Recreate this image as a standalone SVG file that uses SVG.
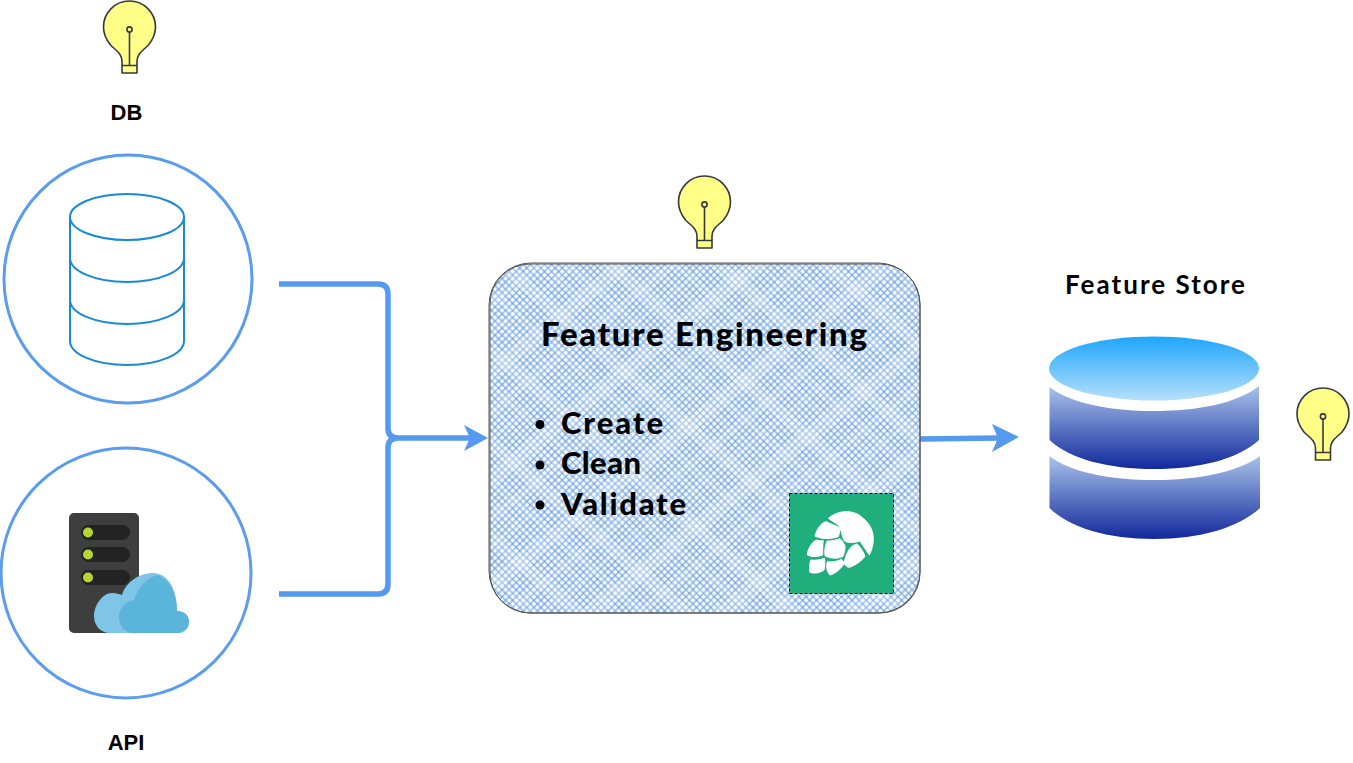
<svg xmlns="http://www.w3.org/2000/svg" width="1353" height="763" viewBox="0 0 1353 763">
<style>
.ring{fill:none;stroke:#5a9cf0;stroke-width:3}
.conn{fill:none;stroke:#5599f0;stroke-width:5.500}
.head{fill:#5599f0}
.bulb{fill:#ffff88;stroke:#36393d;stroke-width:1.6;stroke-linejoin:round}
.bline{fill:none;stroke:#36393d;stroke-width:1.6}
.cyl{fill:#fff;stroke:#1a8ad8;stroke-width:2}
.sans{font-family:"Liberation Sans",Arial,sans-serif;font-weight:700;font-size:22px;fill:#000;text-anchor:middle}
.hand{font-family:"Lato","Noto Sans",sans-serif;font-weight:900;fill:#000}
.store{font-family:"Lato","Noto Sans",sans-serif;font-weight:700;font-size:26px;fill:#000}
.sk{fill:none;stroke:#555;stroke-width:1}
.hop{fill:#fff;stroke:#fff;stroke-width:3;stroke-linejoin:round}
</style>
<defs>
<pattern id="h1" width="5" height="5" patternUnits="userSpaceOnUse" patternTransform="rotate(45)"><line x1="0" y1="2" x2="5" y2="2" stroke="#5a96e4" stroke-width="1.1"/></pattern>
<pattern id="h2" width="5" height="5" patternUnits="userSpaceOnUse" patternTransform="rotate(-45)"><line x1="0" y1="2" x2="5" y2="2" stroke="#5a96e4" stroke-width="1.1"/></pattern>
<pattern id="w1" width="71" height="71" patternUnits="userSpaceOnUse" patternTransform="rotate(41)"><rect y="6" width="71" height="13" fill="#fff" opacity=".2"/><rect y="37" width="71" height="7" fill="#fff" opacity=".14"/><rect y="55" width="71" height="4" fill="#fff" opacity=".12"/></pattern>
<pattern id="w2" width="83" height="83" patternUnits="userSpaceOnUse" patternTransform="rotate(-39)"><rect y="10" width="83" height="15" fill="#fff" opacity=".2"/><rect y="44" width="83" height="8" fill="#fff" opacity=".14"/><rect y="68" width="83" height="4" fill="#fff" opacity=".12"/></pattern>
<linearGradient id="gTop" x1="0" y1="0" x2="0" y2="1"><stop offset="0" stop-color="#1fa6fb"/><stop offset="1" stop-color="#b5e0fb"/></linearGradient>
<linearGradient id="gBand" x1="0" y1="0" x2="0" y2="1"><stop offset="0" stop-color="#a9c3ea"/><stop offset="1" stop-color="#12289c"/></linearGradient>
<g id="bulbIcon">
<path class="bulb" d="M-7.5 72V60C-8 52-13 50-19 44C-23 39-26 33-26 26A26 26 0 0 1 26 26C26 33 23 39 19 44C13 50 8 52 7.5 60V72Z"/>
<path class="bline" d="M-7.5 64.5H7.5M0 64.5V31"/>
<circle class="bulb" cx="0" cy="28.500" r="2.600"/>
</g>
</defs>

<g id="connectors">
<path class="conn" d="M279 284H378Q388 284 388 294V428Q388 438 398 438H470"/>
<path class="conn" d="M279 594H378Q388 594 388 584V448Q388 438 398 438"/>
<path class="head" d="M488 438L464 451L470 438L464 425Z"/>
<path class="conn" d="M920 439L1000 438"/>
<path class="head" d="M1019 437L992 452L998 438L992 424Z"/>
</g>

<g id="db-node">
<circle class="ring" cx="128" cy="279" r="124"/>
<path class="cyl" d="M70 217V341C70 354 95 365 127 365S184 354 184 341V217"/>
<path class="cyl" style="fill:none" d="M70 258C70 271 95 282 127 282S184 271 184 258M70 300C70 313 95 324 127 324S184 313 184 300"/>
<ellipse class="cyl" cx="127" cy="217" rx="57" ry="23"/>
</g>
<use id="db-bulb" href="#bulbIcon" x="129.500" y="1"/>
<text id="db-label" class="sans" x="126.500" y="120">DB</text>

<g id="api-node">
<circle class="ring" cx="126" cy="573" r="125"/>
<rect x="69" y="513" width="70" height="120" rx="5" fill="#3e3e3e"/>
<rect x="81" y="525" width="49" height="15" rx="7.500" fill="#232323"/>
<rect x="81" y="547" width="49" height="15" rx="7.500" fill="#232323"/>
<rect x="81" y="570" width="49" height="15" rx="7.500" fill="#232323"/>
<circle cx="88" cy="532.500" r="5" fill="#b8d432"/>
<circle cx="88" cy="554.500" r="5" fill="#b8d432"/>
<circle cx="88" cy="577.500" r="5" fill="#b8d432"/>
<path fill="#7fc5e8" d="M110 633C100 633 94 625 94 616C94 606 102 593 112 593C116 593 119 594 122 595C126 582 139 573 153 573C167 573 177 587 177 611C185 611 189 616 189 622C189 628 184 633 178 633Z"/>
<path fill="#5bb4da" d="M134 633C125 633 119 626 119 617C119 608 126 601 134 600C138 587 147 578 157 575C169 579 177 592 177 611C185 611 189 616 189 622C189 628 184 633 178 633Z"/>
</g>
<text id="api-label" class="sans" x="126" y="750">API</text>

<g id="feature-engineering">
<rect x="490" y="264" width="430" height="349" rx="40" fill="#fff"/>
<rect x="490" y="264" width="430" height="349" rx="40" fill="url(#h1)"/>
<rect x="490" y="264" width="430" height="349" rx="40" fill="url(#h2)"/>
<rect x="490" y="264" width="430" height="349" rx="40" fill="url(#w1)"/>
<rect x="490" y="264" width="430" height="349" rx="40" fill="url(#w2)"/>
<rect class="sk" x="490" y="264" width="430" height="349" rx="40"/>
<rect class="sk" x="489" y="263" width="431" height="350" rx="42"/>
<text class="hand" x="541" y="346" font-size="33" textLength="326" lengthAdjust="spacing">Feature Engineering</text>
<circle cx="540" cy="424.500" r="4.500"/>
<circle cx="540" cy="465" r="4.500"/>
<circle cx="540" cy="505" r="4.500"/>
<text class="hand" x="561" y="434" font-size="31" textLength="102" lengthAdjust="spacing">Create</text>
<text class="hand" x="561" y="474" font-size="31" textLength="80" lengthAdjust="spacing">Clean</text>
<text class="hand" x="561" y="515" font-size="31" textLength="125" lengthAdjust="spacing">Validate</text>
<g id="hop-icon">
<rect x="789.500" y="493.500" width="104" height="100" fill="#1fae7c" stroke="#000" stroke-dasharray="3 2"/>
<g transform="translate(770 470) scale(.33333)" class="hop">
<path d="M175 145C200 122 250 115 280 145C310 170 320 210 298 255L270 213C255 218 235 220 222 212C215 190 210 170 205 165C195 158 185 152 175 145Z"/>
<path d="M168 155C150 160 140 180 135 198C155 208 180 208 205 200C212 180 208 172 204 170C190 165 180 160 168 155Z"/>
<path d="M140 210C125 215 112 240 112 255C125 262 145 260 158 255C158 240 158 220 160 212C150 213 145 212 140 210Z"/>
<path d="M172 213C165 225 163 245 165 257C185 268 205 265 218 260C225 245 228 230 222 222C215 210 212 208 210 206C200 210 185 213 172 213Z"/>
<path d="M262 222C240 225 228 250 222 280C228 290 235 292 238 292C260 285 280 268 285 258C280 245 270 230 262 222Z"/>
<path d="M122 270C118 285 118 300 120 307C135 312 150 308 162 300C165 290 165 275 163 265C150 270 135 272 122 270Z"/>
<path d="M172 275C168 290 170 305 180 315C195 312 215 295 222 280C218 270 215 270 215 268C200 275 185 277 172 275Z"/>
</g>
</g>
</g>
<use id="fe-bulb" href="#bulbIcon" x="704.500" y="176"/>

<g id="feature-store">
<text class="store" x="1065" y="294" textLength="180" lengthAdjust="spacing">Feature Store</text>
<ellipse cx="1154" cy="368.500" rx="105" ry="32" fill="url(#gTop)"/>
<path fill="url(#gBand)" d="M1049.500 387C1070 403 1110 411 1154 411S1238 403 1259 386V440C1238 459 1200 469 1154 469S1070 459 1049.500 440Z"/>
<path fill="url(#gBand)" d="M1049.500 456C1070 472 1110 480 1154 480S1238 472 1260 456V508C1238 528 1200 539 1154 539S1070 528 1049.500 508Z"/>
</g>
<use id="store-bulb" href="#bulbIcon" x="1323" y="388"/>
</svg>
